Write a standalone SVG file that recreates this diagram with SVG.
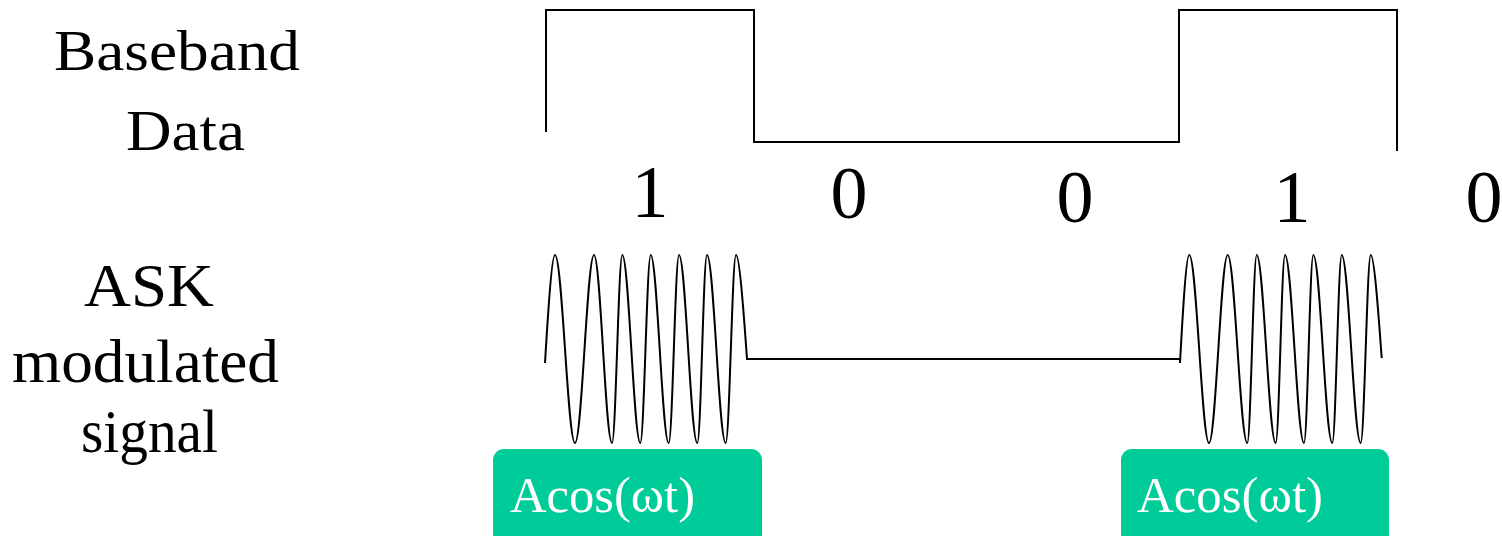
<svg xmlns="http://www.w3.org/2000/svg" width="1502" height="536" viewBox="0 0 1502 536">
<style>
.lbl{font-family:"Liberation Serif","Times New Roman",serif;fill:#000}
.dig{font-family:"Liberation Serif","Times New Roman",serif;font-size:74px;fill:#000;text-anchor:middle}
.sig{fill:none;stroke:#000;stroke-width:2;stroke-linejoin:miter}
.box{fill:#00CC99}
.boxt{font-family:"Liberation Serif","Times New Roman",serif;font-size:50px;fill:#fff}
</style>
<rect width="1502" height="536" fill="#fff"/>
<g id="labels">
<text class="lbl" x="54" y="70" font-size="56" textLength="246" lengthAdjust="spacingAndGlyphs">Baseband</text>
<text class="lbl" x="126" y="150" font-size="56" textLength="119" lengthAdjust="spacingAndGlyphs">Data</text>
<text class="lbl" x="84" y="306" font-size="62" textLength="130" lengthAdjust="spacingAndGlyphs">ASK</text>
<text class="lbl" x="12" y="382" font-size="62" textLength="267" lengthAdjust="spacingAndGlyphs">modulated</text>
<text class="lbl" x="81" y="452" font-size="62" textLength="137" lengthAdjust="spacingAndGlyphs">signal</text>
</g>
<g id="bits">
<text class="dig" x="650" y="217">1</text>
<text class="dig" x="849" y="218">0</text>
<text class="dig" x="1075" y="222">0</text>
<text class="dig" x="1292" y="222">1</text>
<text class="dig" x="1484" y="222">0</text>
</g>
<g id="connectors">
<path id="baseband" class="sig" d="M546,132 L546,10 L754,10 L754,142 L1179,142 L1179,10 L1397,10 L1397,151"/>
<path id="ask" class="sig" d="M545,363 C548.3,308 551.9,255 555,255 C562.3,255 567.7,443 575,443 C581.9,443 587.1,255 594,255 C600.5,255 605.5,443 612,443 C615.8,443 618.5,255 622.3,255 C628.8,255 633.8,443 640.3,443 C644.1,443 646.9,255 650.7,255 C657.2,255 662.2,443 668.7,443 C672.5,443 675.2,255 679,255 C685.7,255 690.6,443 697.3,443 C701,443 703.3,255 707,255 C713.8,255 718.9,443 725.7,443 C729.5,443 732.2,255 736,255 C739.4,255 743.4,308 747,359 L1180,359 L1180,363 C1183,308 1186.2,255 1189.3,255 C1196.5,255 1201.9,443 1209,443 C1215.8,443 1220.9,255 1227.7,255 C1234.8,255 1240.2,443 1247.3,443 C1250.7,443 1253.3,255 1256.7,255 C1263.6,255 1268.8,443 1275.7,443 C1279.1,443 1281.6,255 1285,255 C1291.9,255 1297.1,443 1304,443 C1307.4,443 1309.9,255 1313.3,255 C1320.2,255 1325.4,443 1332.3,443 C1335.7,443 1338.3,255 1341.7,255 C1348.6,255 1353.8,443 1360.7,443 C1364.3,443 1367.1,255 1370.7,255 C1374.1,255 1378.1,308 1381.7,358"/>
</g>
<g id="carrier1">
<rect class="box" x="493" y="449" width="269" height="100" rx="11"/>
<text class="boxt" x="510" y="512" textLength="185" lengthAdjust="spacingAndGlyphs">Acos(ωt)</text>
</g>
<g id="carrier2">
<rect class="box" x="1121" y="449" width="268" height="100" rx="11"/>
<text class="boxt" x="1137" y="512" textLength="186" lengthAdjust="spacingAndGlyphs">Acos(ωt)</text>
</g>
</svg>
